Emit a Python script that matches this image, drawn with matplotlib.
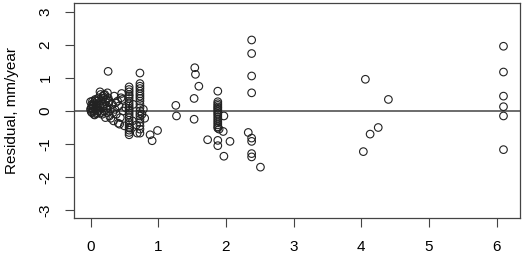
import matplotlib
matplotlib.use("Agg")
import matplotlib.pyplot as plt
import numpy as np

plt.rcParams['font.family'] = ['Liberation Sans', 'DejaVu Sans']

# cluster near zero
x_a = [0.0, 0.01, 0.02, 0.02, 0.03, 0.03, 0.04, 0.05, 0.05, 0.06, 0.07, 0.08, 0.08, 0.09,
       0.1, 0.1, 0.11, 0.12, 0.0, 0.01, 0.03, 0.04, 0.06, 0.07, 0.09, 0.1, 0.12, 0.13]
y_a = [0.05, 0.1, 0.2, -0.05, 0.15, 0.3, 0.0, 0.25, -0.1, 0.1, 0.35, 0.05, 0.2, -0.08,
       0.15, 0.3, 0.0, 0.22, 0.28, -0.02, 0.08, 0.18, -0.12, 0.32, 0.12, -0.05, 0.4, 0.02]

x_b = [0.14, 0.15, 0.16, 0.17, 0.18, 0.19, 0.2, 0.21, 0.22, 0.23, 0.24, 0.25, 0.26, 0.27,
       0.28, 0.29, 0.3, 0.15, 0.18, 0.2, 0.22, 0.25, 0.28, 0.16, 0.19, 0.24, 0.26]
y_b = [0.58, 0.3, 0.1, -0.1, 0.45, 0.2, 0.0, 0.5, -0.2, 0.35, 0.15, -0.05, 0.4, 0.25,
       -0.15, 0.05, -0.22, 0.5, 0.38, 0.48, 0.28, 0.55, 0.3, -0.05, 0.15, 0.08, 1.2]

x_c = [0.32, 0.34, 0.35, 0.36, 0.38, 0.4, 0.41, 0.42, 0.44, 0.45, 0.46, 0.48, 0.5, 0.33,
       0.37, 0.43, 0.47]
y_c = [0.2, -0.3, 0.45, 0.05, -0.1, 0.3, -0.37, 0.15, -0.2, 0.4, 0.53, 0.0, -0.45, -0.05,
       0.25, -0.4, 0.35]

x_d = [0.57] * 21 + [0.58, 0.62, 0.63, 0.52]
y_d = [0.73, 0.65, 0.58, 0.5, 0.45, 0.38, 0.3, 0.22, 0.15, 0.08, 0.02, -0.05, -0.12, -0.2,
       -0.28, -0.35, -0.42, -0.5, -0.58, -0.65, -0.72, -0.52, -0.3, 0.2, 0.1]

x_e = [0.73] * 19 + [0.68, 0.69, 0.8, 0.78, 0.76]
y_e = [1.15, 0.83, 0.75, 0.68, 0.6, 0.52, 0.45, 0.38, 0.3, 0.2, 0.1, 0.0, -0.08, -0.15,
       -0.25, -0.35, -0.45, -0.55, -0.67, -0.42, -0.67, -0.22, 0.05, -0.1]

x_f = [0.88, 0.91, 0.99, 1.26, 1.27, 1.54, 1.55, 1.6, 1.53, 1.53]
y_f = [-0.72, -0.9, -0.59, 0.17, -0.15, 1.31, 1.11, 0.75, 0.38, -0.25]

x_g = [1.88] * 19 + [1.97, 1.96, 1.73, 2.06, 1.97, 1.9]
y_g = [0.6, 0.28, 0.22, 0.17, 0.12, 0.08, 0.03, -0.02, -0.07, -0.12, -0.18, -0.24, -0.3,
       -0.36, -0.42, -0.48, -0.52, -0.89, -1.05, -0.15, -0.62, -0.87, -0.92, -1.37, -0.55]

x_h = [2.38, 2.38, 2.38, 2.38, 2.38, 2.38, 2.38, 2.38, 2.33, 2.51]
y_h = [2.15, 1.74, 1.06, 0.55, -0.82, -0.92, -1.29, -1.39, -0.65, -1.7]

x_i = [4.06, 4.4, 4.25, 4.13, 4.03, 6.1, 6.1, 6.1, 6.1, 6.1, 6.1]
y_i = [0.96, 0.35, -0.5, -0.7, -1.23, 1.96, 1.18, 0.45, 0.13, -0.15, -1.17]

x = np.concatenate([x_a, x_b, x_c, x_d, x_e, x_f, x_g, x_h, x_i])
y = np.concatenate([y_a, y_b, y_c, y_d, y_e, y_f, y_g, y_h, y_i])

fig = plt.figure(figsize=(5.23, 2.70), dpi=100)
ax = fig.add_axes([74 / 523, 52 / 270, 446 / 523, 215 / 270])

ax.scatter(x, y, s=30, facecolors='none', edgecolors='#222222', linewidths=0.8, zorder=3)
ax.axhline(0, color='#444444', linewidth=1.1, zorder=2)

ax.set_xlim(-0.244, 6.344)
ax.set_ylim(-3.24, 3.27)
ax.set_xticks(range(0, 7))
ax.set_yticks(range(-3, 4))
ax.set_yticklabels([str(v) for v in range(-3, 4)], rotation=90, va='center')
ax.tick_params(labelsize=11, length=6.5, width=0.8, color='#444444', pad=9)
ax.set_ylabel("Residual, mm/year", fontsize=11, labelpad=14)
for s in ax.spines.values():
    s.set_color('#444444')
    s.set_linewidth(0.9)

fig.savefig("out.png", dpi=100)
